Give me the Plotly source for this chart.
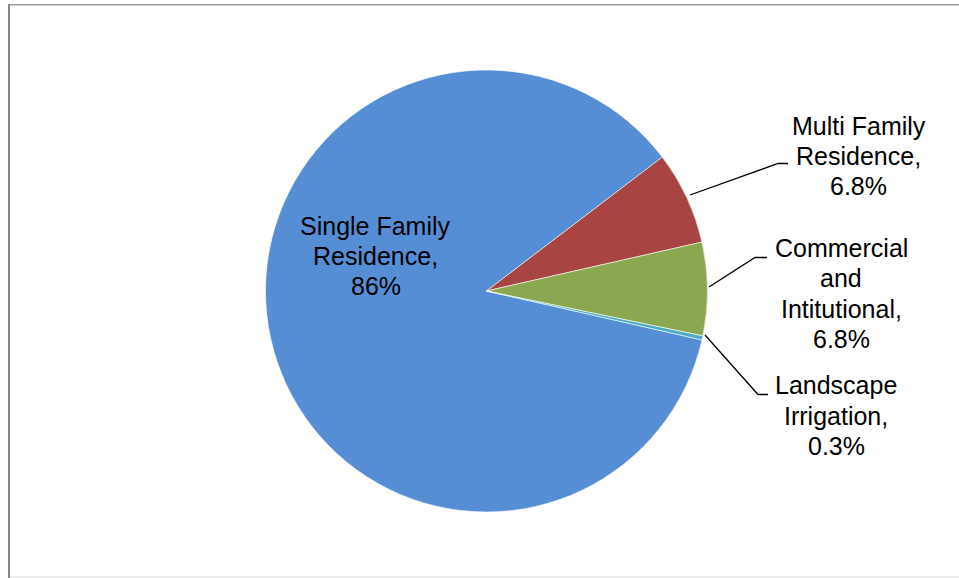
import plotly.graph_objects as go

# Water use by customer class
categories = ["Single Family Residence", "Multi Family Residence",
              "Commercial and Intitutional", "Landscape Irrigation"]
shares = [86, 6.8, 6.8, 0.3]
label_lines = [["Single Family", "Residence,"],
               ["Multi Family", "Residence,"],
               ["Commercial", "and", "Intitutional,"],
               ["Landscape", "Irrigation,"]]
colors = ["#558ED5", "#A84542", "#8BA74F", "#4BACC6"]

W, H = 959, 578


def px(x):
    return x / W


def py(y):
    return 1 - y / H


# pie geometry (pixels)
cx, cy, r = 486.5, 291, 221

fig = go.Figure(go.Pie(
    labels=categories,
    values=shares,
    sort=False,
    direction="clockwise",
    rotation=102.8,
    textinfo="none",
    hoverinfo="label+percent",
    marker=dict(colors=colors, line=dict(color="white", width=0.6)),
    domain=dict(x=[px(cx - r), px(cx + r)], y=[py(cy + r), py(cy - r)]),
    showlegend=False,
))


def fmt(v):
    return f"{v:g}%"


# label block: centre x and y of its first line, line pitch in pixels
label_pos = [(375.5, 225.5), (858.5, 125.5), (841, 248), (836, 385.5)]
line_pitch = 30.3
annotations = []
for lines, v, (lx, ly) in zip(label_lines, shares, label_pos):
    for i, line in enumerate(lines + [fmt(v)]):
        annotations.append(dict(
            x=px(lx), y=py(ly + i * line_pitch), xref="paper", yref="paper",
            text=line, showarrow=False,
            xanchor="center", yanchor="middle", align="center",
            font=dict(family="Liberation Sans, Arial", size=25, color="black"),
        ))

# leader lines from slices to outside labels
leaders = [
    [(690, 195), (778, 163.5), (788, 163.5)],
    [(709, 287), (755, 257.5), (767, 257.5)],
    [(705, 335), (758, 394.5), (768, 394.5)],
]
shapes = []
for pts in leaders:
    path = "M " + " L ".join(f"{px(x)},{py(y)}" for x, y in pts)
    shapes.append(dict(type="path", path=path, xref="paper", yref="paper",
                       line=dict(color="black", width=1.3)))

# chart frame: darker left edge, lighter top and bottom
frame = [
    ((9, 4), (9, 578), "#858585", 2),
    ((8, 4.8), (959, 4.8), "#9A9A9A", 1.6),
    ((10, 577), (959, 577), "#DADADA", 1),
]
for (x0, y0), (x1, y1), c, w in frame:
    shapes.append(dict(type="line", xref="paper", yref="paper",
                       x0=px(x0), y0=py(y0), x1=px(x1), y1=py(y1),
                       line=dict(color=c, width=w)))

fig.update_layout(
    width=W, height=H,
    margin=dict(l=0, r=0, t=0, b=0),
    paper_bgcolor="white", plot_bgcolor="white",
    annotations=annotations, shapes=shapes,
)

fig.write_html("out.html")
